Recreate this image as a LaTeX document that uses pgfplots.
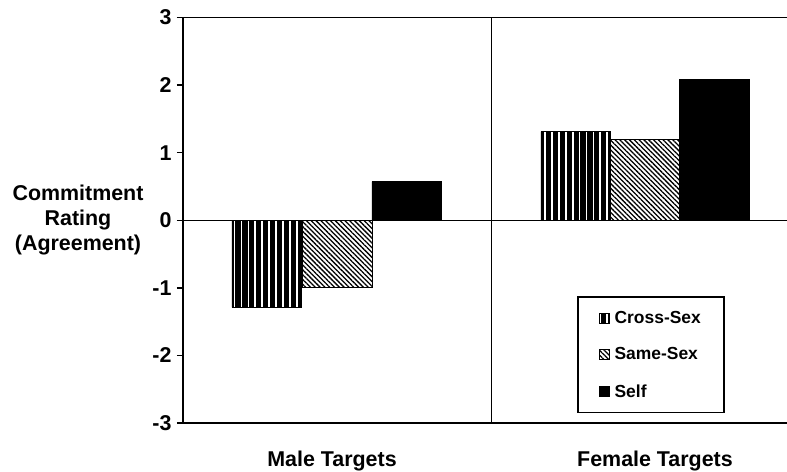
\documentclass[border=0pt]{standalone}
\usepackage{fontspec}
\setmainfont{Liberation Sans}
\usepackage{pgfplots}
\pgfplotsset{compat=1.18}
\usetikzlibrary{patterns.meta}

\newcommand{\bigfont}{\bfseries\fontsize{21.5}{25}\selectfont}
\newcommand{\legfont}{\bfseries\fontsize{17.5}{20}\selectfont}

\begin{document}
\begin{tikzpicture}
\begin{axis}[
  at={(0,0)}, anchor=south west,
  scale only axis, width=604bp, height=405.5bp,
  xmin=0, xmax=604, ymin=-3, ymax=3,
  axis x line*=bottom, axis y line*=left,
  axis line style={line width=1.4bp, -},
  ytick={-3,-2,-1,0,1,2,3},
  yticklabels={-3,-2,-1,0,1,2,3},
  tick align=outside, major tick length=6bp,
  tick style={line width=1.4bp, black},
  y tick label style={font=\bigfont, xshift=-2bp},
  xtick={149,472}, xticklabels={Male Targets, Female Targets},
  x tick style={draw=none},
  x tick label style={font=\bigfont, inner sep=0pt, yshift=-21.5bp},
  extra y ticks={0,3}, extra y tick labels={},
  extra y tick style={grid=major, major grid style={black, line width=1.4bp}},
  extra x ticks={308.7}, extra x tick labels={},
  extra x tick style={grid=major, major tick length=0pt, major grid style={black, line width=1.4bp}},
  ybar, bar width=69.7, bar shift=0pt,
  ylabel={Commitment\\Rating\\(Agreement)},
  every axis y label/.style={at={(axis description cs:0,0.5)}, anchor=center, xshift=-105bp, align=center, font=\bigfont},
  legend image code/.code={\draw[#1, line width=0.6bp] (0bp,-5bp) rectangle (10bp,5bp); \path (13bp,0bp);},
  legend cell align=left,
  legend style={at={(axis cs:394.3,-2.856)}, anchor=south west, draw=black, line width=1.4bp,
    inner xsep=21bp, inner ysep=12bp, row sep=19bp, font=\legfont, fill=white},
]
\addplot[draw=black, line width=0.6bp, fill=black,
  postaction={pattern={Lines[angle=90, distance=6.9bp, line width=1.7bp]}, pattern color=white}]
  coordinates {(83.7,-1.29) (392.7,1.31)};
\addlegendentry{Cross-Sex}
\addplot[draw=black, line width=0.6bp, fill=white,
  postaction={pattern={Lines[angle=-45, distance=3.4bp, line width=1.3bp]}, pattern color=black}]
  coordinates {(154,-0.99) (462,1.20)};
\addlegendentry{Same-Sex}
\addplot[draw=black, line width=0.6bp, fill=black]
  coordinates {(223.7,0.57) (531.4,2.09)};
\addlegendentry{Self}
\end{axis}
\pgfresetboundingbox
\useasboundingbox (-183bp,-49bp) rectangle (604bp,423bp);
\end{tikzpicture}
\end{document}
